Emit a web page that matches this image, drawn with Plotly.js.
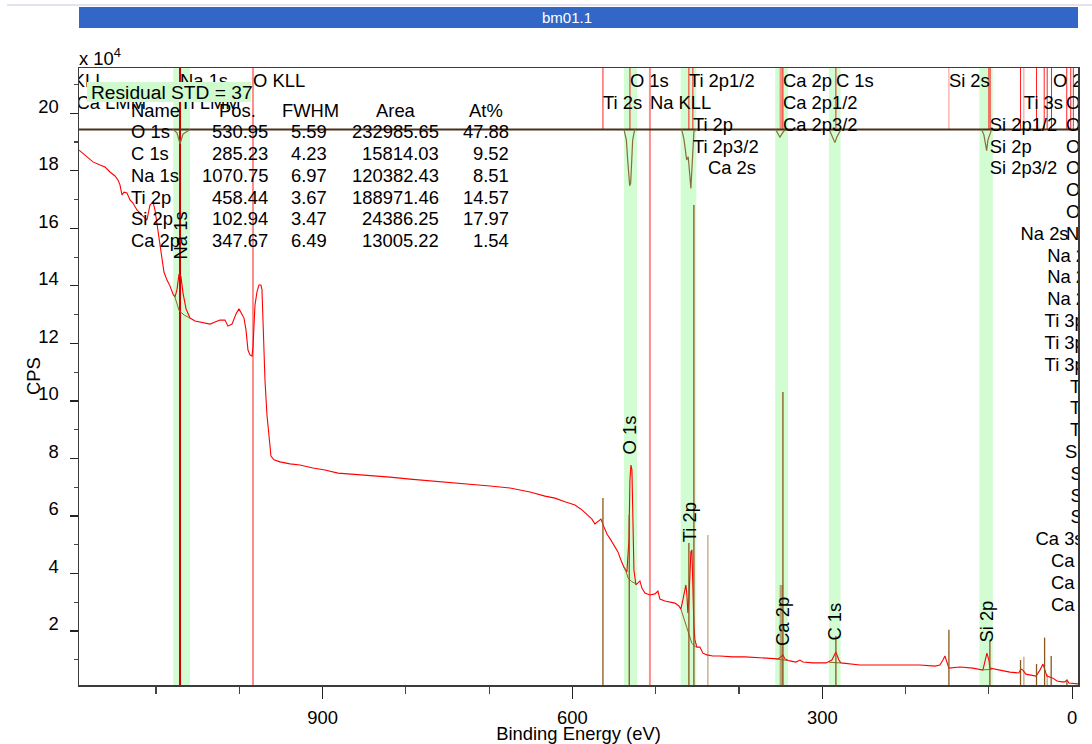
<!DOCTYPE html>
<html>
<head>
<meta charset="utf-8">
<script src="https://cdn.plot.ly/plotly-3.0.1.min.js"></script>
<style>
  html, body { margin: 0; padding: 0; background: #ffffff; }
  #chart { width: 1092px; height: 744px; }
</style>
</head>
<body>
<div id="chart"></div>
<script>
// ---- Survey spectrum (binding energy in eV, counts per second) ----
const bindingEnergy = [
  1192.5,1185.3,1175.7,1167.3,1161.3,1155.3,1149.3,1145.7,1143.3,1140.9,
  1138.5,1134.9,1131.3,1127.7,1122.9,1116.9,1110.9,1107.3,1103.7,1101.3,
  1098.9,1095.3,1092.9,1090.5,1086.9,1083.3,1079.7,1077.3,1074.9,1072.4,
  1070.0,1067.6,1064.0,1059.2,1053.2,1047.2,1041.2,1035.2,1029.2,1023.2,
  1017.2,1013.6,1008.8,1004.0,1000.4,998.0,994.4,992.0,989.6,987.2,
  984.8,983.6,981.2,978.8,976.4,974.0,972.8,971.6,969.2,966.8,
  964.4,962.0,958.4,951.2,939.2,927.2,911.6,897.2,881.5,867.1,
  843.1,819.1,795.1,771.1,747.1,723.1,699.1,675.0,651.0,633.0,
  621.0,609.0,597.0,588.6,581.4,576.6,573.0,569.4,565.8,562.2,
  558.6,553.8,550.2,545.4,541.8,538.2,534.6,532.2,531.0,529.8,
  528.6,527.4,526.2,523.8,521.4,519.0,516.6,513.0,507.0,501.0,
  497.4,495.0,489.0,483.0,477.0,472.2,469.8,467.4,465.0,463.8,
  462.6,461.4,460.2,459.0,457.8,456.6,455.4,454.2,453.0,450.6,
  447.0,443.4,438.6,431.4,423.0,407.3,392.9,374.9,362.9,353.3,
  349.7,347.3,344.9,338.9,331.7,326.9,323.3,311.3,295.7,288.5,
  283.7,280.1,277.7,266.9,254.8,230.8,206.8,182.8,164.8,158.8,
  155.2,152.8,150.4,148.0,134.8,119.2,107.2,104.8,102.4,100.0,
  98.8,86.8,74.7,64.0,61.6,59.2,55.6,43.5,38.7,35.1,
  32.7,30.3,23.1,18.3,12.3,8.7,6.3,3.9,-7.0
];
const cps = [
  187200,185500,183100,182000,181300,179600,178200,176800,175100,171600,
  172600,172300,169900,168800,166400,164600,162900,168100,169200,166400,
  161900,154900,149000,144800,142000,140000,137200,136100,138600,144100,
  143100,137500,132000,128800,127800,127400,127100,126700,127400,128100,
  128100,126000,126700,130200,132000,130900,128800,124700,117700,116000,
  115600,118700,133300,137900,140300,140300,138600,128100,107300,95100,
  86400,80800,79500,78800,78100,77700,76700,76000,74900,74600,
  74200,73500,72800,72200,71800,71100,70400,69700,68300,66900,
  66200,64900,63800,62100,60300,58900,57200,57900,58900,56200,
  53700,51600,49900,47500,44700,42200,40500,51600,72500,77700,
  76000,58600,41200,36000,36700,37400,34900,33200,32500,32900,
  33900,31100,30400,30100,29700,28700,27600,30800,34900,36000,
  32500,26300,30800,41200,47500,48200,30800,22100,16900,14400,
  14400,12300,11700,11300,11300,11000,11000,10600,10300,10300,
  11000,11700,10300,9600,9200,9900,9200,8900,8900,9900,
  12700,9900,8900,8500,8200,8200,8200,8200,7800,8200,
  9900,11300,9200,7100,7500,7100,6400,8900,12300,9900,
  7100,6400,5700,5400,6800,6400,5000,4300,6400,8500,
  6400,4300,3600,2600,2300,2300,3000,1900,1600
];

// ---- Quantification table ----
const regionNames = ['O 1s', 'C 1s', 'Na 1s', 'Ti 2p', 'Si 2p', 'Ca 2p'];
const regionPos   = [530.95, 285.23, 1070.75, 458.44, 102.94, 347.67];
const regionFwhm  = [5.59, 4.23, 6.97, 3.67, 3.47, 6.49];
const regionArea  = [232985.65, 15814.03, 120382.43, 188971.46, 24386.25, 13005.22];
const regionAtPct = [47.88, 9.52, 8.51, 14.57, 17.97, 1.54];
// integration windows (eV), high and low binding-energy limits
const regionHigh  = [538.1, 292.1, 1079.3, 470.1, 111.3, 356.5];
const regionLow   = [522.5, 278.1, 1059.3, 451.3, 95.3, 341.3];
const tableHeaders = ['Name', 'Pos.', 'FWHM', 'Area', 'At%'];
const residualStd = 37;

// ---- Shirley backgrounds under each region ----
const bgO  = { e: [538.2, 536.0, 533.0, 529.0, 523.0, 522.5], c: [42200, 41000, 38300, 37200, 36300, 36200] };
const bgC  = { e: [291.7, 277.7], c: [9100, 8900] };
const bgNa = { e: [1079.7, 1077.3, 1072.2, 1066.0, 1059.2], c: [137200, 136100, 131300, 129800, 128800] };
const bgTi = { e: [469.8, 466.0, 462.6, 456.6, 452.6, 451.0], c: [27600, 24200, 20300, 15700, 14600, 14400] };
const bgSi = { e: [108.7, 96.7], c: [6500, 6600] };
const bgCa = { e: [356.1, 341.0], c: [10300, 9700] };

// ---- Fit residual (counts) inside each region ----
const residualE = [
  1079.7, 1074.9, 1071.2, 1067.6, 1059.2, null,
  538.2, 535.3, 533.7, 532.1, 531.3, 530.1, 528.9, 527.7, 525.3, null,
  468.9, 466.1, 462.9, 461.0, 457.8, 455.7, 454.2, 451.0, null,
  356.1, 350.9, 346.1, 341.0, null,
  291.7, 287.3, 284.9, 282.5, 277.7, null,
  108.7, 106.0, 102.7, 101.1, 96.7
];
const residualCounts = [
  0, -1200, -5000, -1600, 0, null,
  0, -3650, -10600, -17600, -19600, -18600, -10600, -3700, 0, null,
  0, -3500, -10600, -9500, -20500, -10600, -770, 0, null,
  0, -2700, -500, 0, null,
  0, -2600, -4600, -2600, 0, null,
  0, -1900, -7400, -3650, 0
];
const residualBaseline = 194400;

// ---- Element line markers: position (eV) and relative height (counts) ----
const markerE = [563.4, 531.8, 460.2, 454.2, 347.3, 283.7, 148.0, 98.8, 62.0, 42.8, 33.1, 25.2, 6.3];
const markerH = [66200, 60300, 50600, 168100, 103100, 18300, 20400, 16500, 9900, 8500, 17700, 11300, 3000];
const satelliteE = [437.4, 58.0, 30.0];
const satelliteH = [53400, 11000, 5000];
const caDoubletE = [349.1];
const caDoubletH = [36000];

// full-height identification lines
const fullLineE = [1071.2, 983.6, 507.0];
const fullLineColor = ['#cc0000', '#ff8c8c', '#ff8c8c'];
// short identification ticks in the label strip
const stripLineE = [563.4, 531.0, 460.2, 455.4, 347.3, 283.7, 148.0, 100.0, 98.5, 62.0, 58.0, 42.8, 33.6, 30.0, 24.8, 6.5, 1.7, -1.4];
const stripLineColor = ['#ff2020','#ff2020','#ff2020','#ff2020','#ff2020','#ff2020','#ff9090','#ff2020','#ff2020',
                        '#ff2020','#ff9090','#ff2020','#ff2020','#ff2020','#ff2020','#ff2020','#ff2020','#ff2020'];
const caStripE = 349.5;

// ---- Element labels in the label strip: text, position (eV), row ----
const elementLabels = [
  'C KLL','Na 1s','O KLL','O 1s','Ti 2p1/2','Ca 2p','C 1s','Si 2s','O 2s',
  'Ca LMM','Ti LMM','Ti 2s','Na KLL','Ca 2p1/2','Ti 3s','O 2p',
  'Ti 2p','Ca 2p3/2','Si 2p1/2','O 2p1/2',
  'Ti 2p3/2','Si 2p','O 2p3/2',
  'Ca 2s','Si 2p3/2','O 3s',
  'O 3p','O 3d',
  'Na 2s','Na 3s',
  'Na 2p','Na 2p1/2','Na 2p3/2',
  'Ti 3p','Ti 3p1/2','Ti 3p3/2',
  'Ti 3d','Ti 3d3/2','Ti 3d5/2',
  'Si 3s','Si 3p','Si 3p1/2','Si 3p3/2',
  'Ca 3s','Ca 3p','Ca 3p1/2','Ca 3p3/2'
];
const elementLabelE = [
  1222, 1071.2, 983.6, 531.0, 460.2, 347.3, 283.7, 148.0, 23.1,
  1195.5, 1071.2, 563.4, 507.0, 347.3, 58.0, 7.5,
  455.4, 347.3, 99.0, 7.5,
  455.4, 99.0, 7.5,
  437.4, 99.0, 7.5,
  7.5, 7.5,
  62.0, 7.5,
  30.0, 30.0, 30.0,
  33.1, 33.1, 33.1,
  2.5, 2.5, 2.5,
  8.5, 2.0, 2.0, 2.0,
  44.0, 25.3, 25.3, 25.3
];
const elementLabelRow = [
  0,0,0,0,0,0,0,0,0,
  1,1,1,1,1,1,1,
  2,2,2,2,
  3,3,3,
  4,4,4,
  5,6,
  7,7,
  8,9,10,
  11,12,13,
  14,15,16,
  17,18,19,20,
  21,22,23,24
];

// axis ticks
const yTickLabels = [2, 4, 6, 8, 10, 12, 14, 16, 18, 20];
const yScale = 1e4;

// ---- Geometry of the drawing ----
const W = 1092, H = 744;
const plotLeft = 79, plotRight = 1078, plotTop = 68, plotBottom = 685;
const xRange = [1192.5, -7.0];
const yRange = [1220, 215750];
const paperX = px => (px - plotLeft) / (plotRight - plotLeft);
const paperY = py => (plotBottom - py) / (plotBottom - plotTop);
const pxToCounts = py => yRange[1] - (py - plotTop) * (yRange[1] - yRange[0]) / (plotBottom - plotTop);
const FONT = 'Liberation Sans, Arial, Helvetica, sans-serif';
const FS = 18.4;

const stripBottomPx = 129.5;
const rowPx = r => 82.5 + 21.82 * r;

// ---- Shapes ----
const shapes = [];
// region bands
regionHigh.forEach((hi, i) => {
  shapes.push({ type: 'rect', layer: 'below', xref: 'x', yref: 'paper',
    x0: hi, x1: regionLow[i], y0: 0, y1: 1, fillcolor: 'rgb(210,252,210)', line: { width: 0 } });
});
// full-height lines
fullLineE.forEach((e, i) => {
  shapes.push({ type: 'line', layer: 'below', xref: 'x', yref: 'paper',
    x0: e, x1: e, y0: 0, y1: 1, line: { color: fullLineColor[i], width: 2 } });
});
// label-strip ticks
shapes.push({ type: 'line', layer: 'below', xref: 'x', yref: 'paper',
  x0: caStripE, x1: caStripE, y0: paperY(stripBottomPx), y1: 1, line: { color: '#f09080', width: 3 } });
stripLineE.forEach((e, i) => {
  shapes.push({ type: 'line', layer: 'below', xref: 'x', yref: 'paper',
    x0: e, x1: e, y0: paperY(stripBottomPx), y1: 1, line: { color: stripLineColor[i], width: 1 } });
});
// window title bar and rule above it
shapes.push({ type: 'line', xref: 'paper', yref: 'paper', x0: paperX(7), x1: paperX(1092),
  y0: paperY(5), y1: paperY(5), line: { color: '#e2e2f0', width: 2 } });
shapes.push({ type: 'rect', xref: 'paper', yref: 'paper', x0: 0, x1: 1,
  y0: paperY(28), y1: paperY(7), fillcolor: '#3267c8', line: { width: 0 } });
// residual STD box
shapes.push({ type: 'rect', layer: 'above', xref: 'paper', yref: 'paper',
  x0: paperX(87), x1: paperX(251), y0: paperY(102), y1: paperY(82),
  fillcolor: 'rgb(206,250,206)', line: { width: 0 } });

// ---- Traces ----
const traces = [];
const vlines = (es, hs) => {
  const x = [], y = [];
  es.forEach((e, i) => { x.push(e, e, null); y.push(0, hs[i], null); });
  return { x, y };
};
const sat = vlines(satelliteE, satelliteH);
traces.push({ x: sat.x, y: sat.y, mode: 'lines', line: { color: '#c0a486', width: 1.3 }, hoverinfo: 'skip' });
const cad = vlines(caDoubletE, caDoubletH);
traces.push({ x: cad.x, y: cad.y, mode: 'lines', line: { color: '#b09468', width: 3.5 }, opacity: 0.85, hoverinfo: 'skip' });

// spectrum
traces.push({ x: bindingEnergy, y: cps, mode: 'lines', line: { color: '#ff0000', width: 1.1 }, hoverinfo: 'skip' });

// backgrounds
[bgO, bgC, bgNa, bgTi, bgSi, bgCa].forEach(bg => {
  traces.push({ x: bg.e, y: bg.c, mode: 'lines', line: { color: '#8a6a2a', width: 1 }, hoverinfo: 'skip' });
});

// marker lines
const mk = vlines(markerE, markerH);
traces.push({ x: mk.x, y: mk.y, mode: 'lines', line: { color: '#8c5519', width: 1.3 }, hoverinfo: 'skip' });

// residual zero line and residual
traces.push({ x: xRange, y: [residualBaseline, residualBaseline], mode: 'lines',
  line: { color: '#4a3018', width: 2 }, hoverinfo: 'skip' });
traces.push({ x: residualE, y: residualCounts.map(v => v === null ? null : residualBaseline + v),
  mode: 'lines', connectgaps: false, line: { color: '#8a6d3b', width: 1.2 }, hoverinfo: 'skip' });

// label strip text
traces.push({ x: elementLabelE, y: elementLabelRow.map(r => pxToCounts(rowPx(r))),
  mode: 'text', text: elementLabels, textposition: 'middle right', cliponaxis: true,
  textfont: { family: FONT, size: FS, color: '#000000' }, hoverinfo: 'skip' });

// ---- Annotations ----
const annotations = [];
annotations.push({ xref: 'paper', yref: 'paper', x: paperX(567), y: paperY(17.5), xanchor: 'center', yanchor: 'middle',
  text: 'bm01.1', showarrow: false, font: { family: FONT, size: 15, color: '#ffffff' } });
annotations.push({ xref: 'paper', yref: 'paper', x: paperX(77), y: paperY(71), xanchor: 'left', yanchor: 'bottom',
  text: 'x 10<sup>4</sup>', showarrow: false, font: { family: FONT, size: FS, color: '#000' } });
annotations.push({ xref: 'paper', yref: 'paper', x: paperX(89), y: paperY(92), xanchor: 'left', yanchor: 'middle',
  text: 'Residual STD = ' + residualStd, showarrow: false, font: { family: FONT, size: 19.2, color: '#000' } });
// vertical axis title
annotations.push({ xref: 'paper', yref: 'paper', x: paperX(33), y: paperY(376), xanchor: 'center', yanchor: 'middle',
  text: 'CPS', textangle: -90, showarrow: false, font: { family: FONT, size: FS, color: '#000' } });

// table
const rowY = i => 110 + 21.75 * i;
const headerX = [129.3, 237, 310, 395.5, 486];
const headerAnchor = ['left', 'center', 'center', 'center', 'center'];
tableHeaders.forEach((h, j) => {
  annotations.push({ xref: 'paper', yref: 'paper', x: paperX(headerX[j]), y: paperY(rowY(0)),
    xanchor: headerAnchor[j], yanchor: 'middle', text: h, showarrow: false,
    font: { family: FONT, size: FS, color: '#000' } });
});
const colX = [129.3, 270, 328.5, 440.5, 510.5];
const colAnchor = ['left', 'right', 'right', 'right', 'right'];
regionNames.forEach((n, i) => {
  const cells = [n, regionPos[i].toFixed(2), regionFwhm[i].toFixed(2), regionArea[i].toFixed(2), regionAtPct[i].toFixed(2)];
  cells.forEach((c, j) => {
    annotations.push({ xref: 'paper', yref: 'paper', x: paperX(colX[j]), y: paperY(rowY(i + 1)),
      xanchor: colAnchor[j], yanchor: 'middle', text: c, showarrow: false,
      font: { family: FONT, size: FS, color: '#000' } });
  });
});

// rotated peak labels above each region's maximum (lift in px)
const peakLift = { 'O 1s': 10, 'C 1s': 10, 'Na 1s': 14, 'Ti 2p': 7, 'Si 2p': 10, 'Ca 2p': 8 };
regionNames.forEach((n, i) => {
  let top = -Infinity;
  bindingEnergy.forEach((e, k) => { if (e <= regionHigh[i] && e >= regionLow[i]) top = Math.max(top, cps[k]); });
  annotations.push({ xref: 'x', yref: 'y', x: regionPos[i], y: top, xanchor: 'center', yanchor: 'bottom',
    yshift: peakLift[n], textangle: -90, text: n, showarrow: false, borderpad: 0,
    font: { family: FONT, size: FS, color: '#000' } });
});

const layout = {
  width: W, height: H,
  margin: { l: plotLeft, r: W - plotRight, t: plotTop, b: H - plotBottom, pad: 0 },
  paper_bgcolor: '#ffffff', plot_bgcolor: '#ffffff',
  showlegend: false,
  font: { family: FONT, size: FS, color: '#000' },
  xaxis: {
    range: xRange, showgrid: false, zeroline: false,
    showline: true, mirror: true, linecolor: '#3c3c3c', linewidth: 1.5,
    ticks: 'outside', ticklen: 12, tickwidth: 1.2, tickcolor: '#222',
    tick0: 0, dtick: 300, tickfont: { family: FONT, size: FS, color: '#000' },
    ticklabelstandoff: 3,
    minor: { tick0: 0, dtick: 100, ticks: 'outside', ticklen: 7, tickwidth: 1.2, tickcolor: '#444', showgrid: false },
    title: { text: 'Binding Energy (eV)', font: { family: FONT, size: FS, color: '#000' }, standoff: 0 }
  },
  yaxis: {
    range: yRange, showgrid: false, zeroline: false,
    showline: true, mirror: true, linecolor: '#3c3c3c', linewidth: 1.5,
    ticks: 'outside', ticklen: 8, tickwidth: 1.2, tickcolor: '#222',
    tickmode: 'array', tickvals: yTickLabels.map(v => v * yScale), ticktext: yTickLabels.map(String),
    ticklabelshift: -7, ticklabelstandoff: 7,
    tickfont: { family: FONT, size: FS, color: '#000' },
    minor: { tick0: 0, dtick: yScale, ticks: 'outside', ticklen: 4, tickwidth: 1.2, tickcolor: '#444', showgrid: false }
  },
  shapes: shapes,
  annotations: annotations
};

Plotly.newPlot('chart', traces, layout, { staticPlot: true, displayModeBar: false });
</script>
</body>
</html>
